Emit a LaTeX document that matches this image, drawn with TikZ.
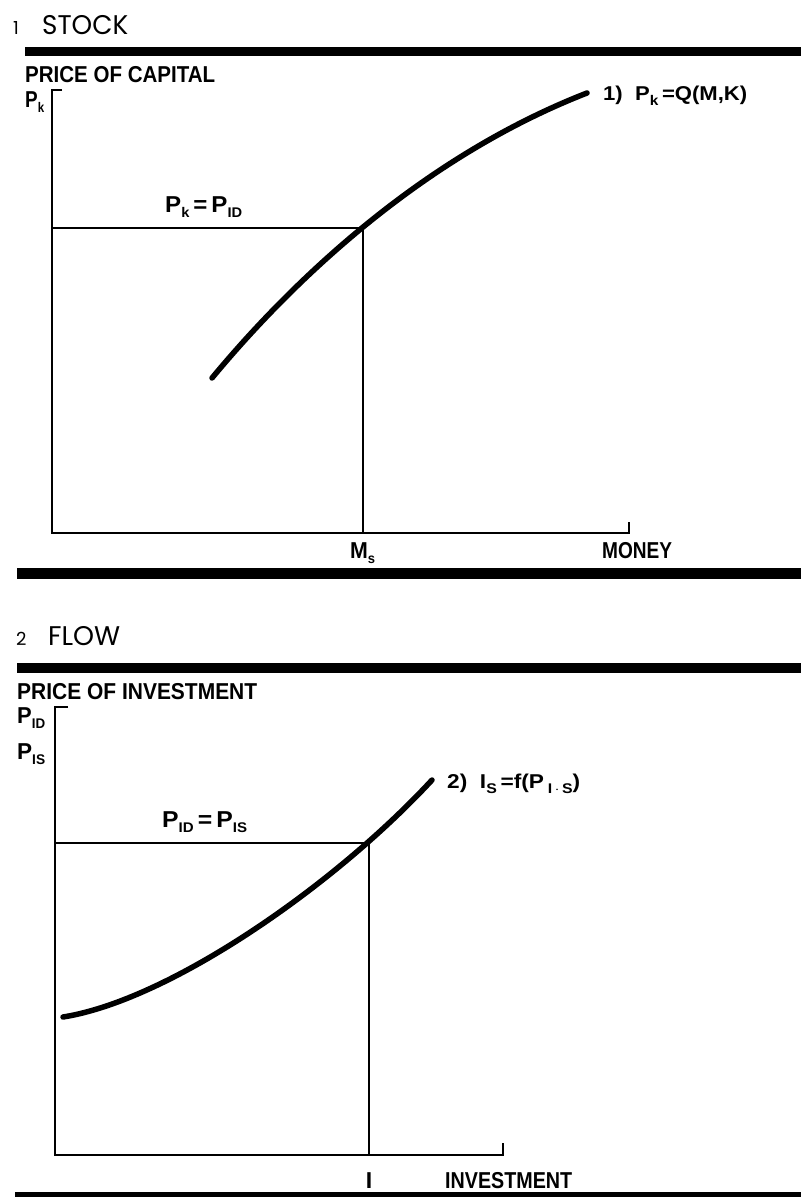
\documentclass[tikz,border=0pt]{standalone}
\usepackage{fontspec}
\usepackage{graphicx}
\setmainfont{Liberation Sans}
\newfontfamily\titlefont{Poppins}
\newcommand\capfont{\fontsize{23}{23}\selectfont\bfseries}
\newcommand\curvefont{\fontsize{20}{20}\selectfont\bfseries}
\newcommand\sbs[1]{\raisebox{-5pt}{\fontsize{14}{14}\selectfont\bfseries #1}}
\newcommand\fitw[2]{\resizebox{#1}{\height}{#2}}
\tikzset{
  title/.style={anchor=base west, inner sep=0pt, font=\titlefont\fontsize{27}{27}\selectfont},
  lbl/.style={anchor=base west, inner sep=0pt, font=\capfont},
  clbl/.style={anchor=base west, inner sep=0pt, font=\curvefont},
  axis/.style={line width=1.7pt},
  guide/.style={line width=1.7pt},
  curve/.style={line width=5.5pt, line cap=round},
  rulebar/.style={fill=black}
}
\begin{document}
\begin{tikzpicture}[x=1pt,y=-1pt]
\useasboundingbox (0,0) rectangle (801,1197);
% ---------- panel 1 ----------
\node[title] (n1) at (13,34) {\fontsize{18}{18}\selectfont 1};
\node[title] (t1) at (42,34) {\fitw{86pt}{STOCK}};
\fill[rulebar] (25,47) rectangle (801,56);
\node[lbl] (ylab1) at (25,82) {\fitw{190pt}{PRICE OF CAPITAL}};
\node[lbl] (pk) at (25,107) {\fitw{19pt}{P\sbs{k}}};
\coordinate (o1) at (52,533);
\coordinate (ytop1) at (52,90);
\coordinate (ytick1) at (62,90);
\coordinate (xend1) at (629,533);
\coordinate (xtick1) at (629,522);
\coordinate (e1) at (363,228);
\coordinate (e1y) at (52,228);
\coordinate (e1x) at (363,533);
\coordinate (c1s) at (212,378);
\coordinate (c1e) at (587,93);
\draw[axis] (ytick1) -- (ytop1) -- (o1) -- (xend1) -- (xtick1);
\draw[guide] (e1y) -- (e1) -- (e1x);
\draw[curve] (c1s) .. controls (285,290) and (415,160) .. (c1e);
\node[lbl] (eq1) at (165,212) {\fitw{77pt}{P\sbs{k}\,=\,P\sbs{ID}}};
\node[clbl] (c1) at (603,100) {\fitw{144pt}{1)\ \ P\sbs{k}\,=Q(M,K)}};
\node[lbl] (ms) at (350,558) {\fitw{25pt}{M\sbs{s}}};
\node[lbl] (money) at (602,558) {\fitw{70pt}{MONEY}};
\fill[rulebar] (17,568) rectangle (801,579);
% ---------- panel 2 ----------
\node[title] (n2) at (16,645) {\fontsize{18}{18}\selectfont 2};
\node[title] (t2) at (48,645) {\fitw{72pt}{FLOW}};
\fill[rulebar] (17,663) rectangle (801,673);
\node[lbl] (ylab2) at (17,699) {\fitw{240pt}{PRICE OF INVESTMENT}};
\node[lbl] (pid) at (17,723) {\fitw{28pt}{P\sbs{ID}}};
\node[lbl] (pis) at (17,759) {\fitw{28pt}{P\sbs{IS}}};
\coordinate (o2) at (55,1155);
\coordinate (ytop2) at (55,707);
\coordinate (ytick2) at (68,707);
\coordinate (xend2) at (503,1155);
\coordinate (xtick2) at (503,1143);
\coordinate (e2) at (369,843);
\coordinate (e2y) at (55,843);
\coordinate (e2x) at (369,1155);
\coordinate (c2s) at (63,1017);
\coordinate (c2e) at (432,780);
\draw[axis] (ytick2) -- (ytop2) -- (o2) -- (xend2) -- (xtick2);
\draw[guide] (e2y) -- (e2) -- (e2x);
\draw[curve] (c2s) .. controls (170,1000) and (335,885) .. (c2e);
\node[lbl] (eq2) at (162,827) {\fitw{85pt}{P\sbs{ID}\,=\,P\sbs{IS}}};
\node[clbl] (c2) at (447,788) {\fitw{133pt}{2)\ \ I\sbs{S}\,=f(P\,\sbs{I\,$\cdot$\,S})}};
\node[lbl, anchor=base] (ilab) at (369,1188) {I};
\node[lbl] (inv) at (445,1188) {\fitw{127pt}{INVESTMENT}};
\fill[rulebar] (15,1192) rectangle (801,1197);
\end{tikzpicture}
\end{document}
